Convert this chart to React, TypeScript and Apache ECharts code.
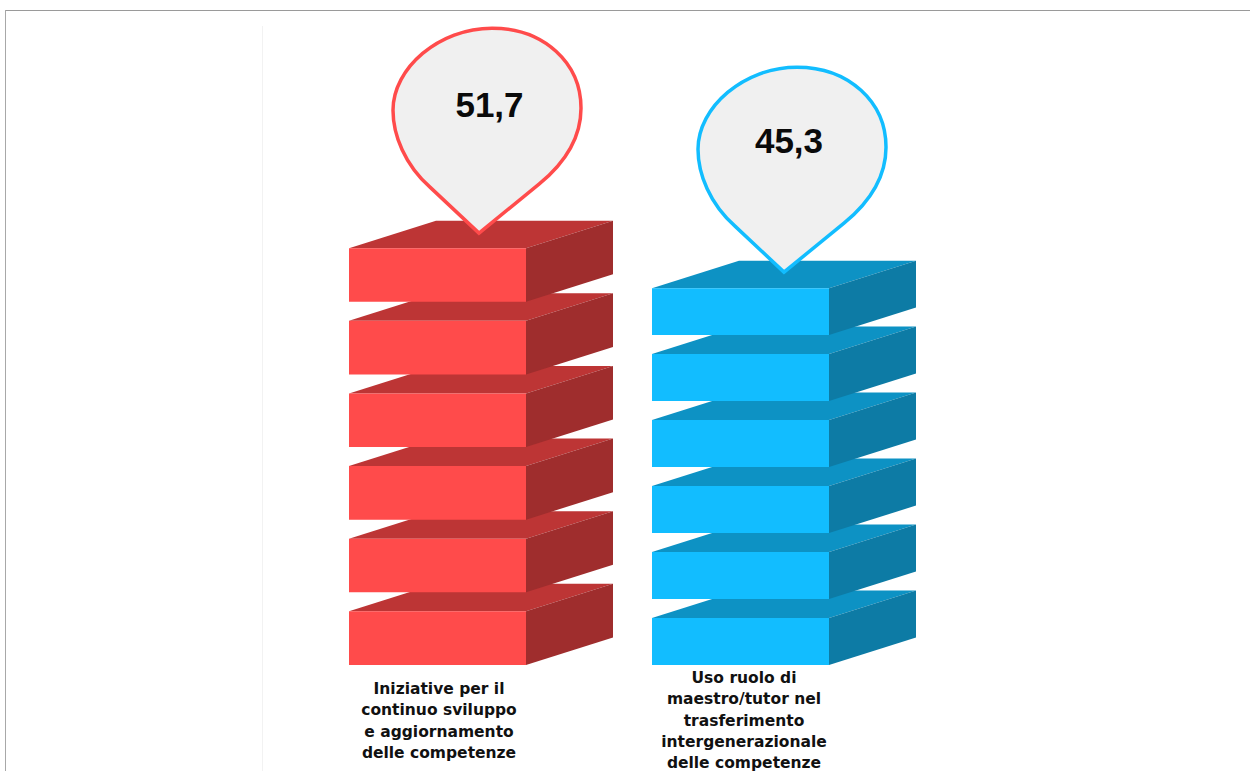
import React, { useEffect, useRef } from "react";
import * as echarts from "echarts";

const categories = [
  "Iniziative per il\ncontinuo sviluppo\ne aggiornamento\ndelle competenze",
  "Uso ruolo di\nmaestro/tutor nel\ntrasferimento\nintergenerazionale\ndelle competenze",
];
const values = [51.7, 45.3];
const slabCounts = [6, 6];

// Per-column colours: front, top and side faces of the slabs, then the pin outline.
const frontColors = ["#FF4B4B", "#12BDFF"];
const topColors = ["#BD3535", "#0D92C4"];
const sideColors = ["#9F2D2D", "#0D7BA5"];

const AXIS_MIN = -15;
const AXIS_MAX = 85;
const FRONT_WIDTH = 177;
const DEPTH_X = 87;
const DEPTH_Y = 27.5;
const SLAB_GAP = 19;

const PIN_PATH =
  "M0,0 L-49,-46 C-74,-68 -86,-98 -86,-123 C-86,-165 -40,-205 13,-205 " +
  "C65,-205 102,-170 102,-125 C102,-98 88,-72 60,-49 Z";
const pinTipDx = [41.5, 43.5];
const pinTipLift = [15, 16];
const valueDx = [52, 48.5];
const valueLift = [144, 148];

const formatValue = (v: number) => String(v).replace(".", ",");

function renderColumn(params: any, api: any) {
  const i = api.value(0) as number;
  const value = api.value(1) as number;
  const [cx, top] = api.coord([i, value]);
  const [, bottom] = api.coord([i, AXIS_MIN]);
  const left = cx - FRONT_WIDTH / 2;
  const right = cx + FRONT_WIDTH / 2;
  const n = slabCounts[i];
  const pitch = (bottom - top + SLAB_GAP) / n;
  const h = pitch - SLAB_GAP;
  const children: any[] = [];

  // Lower slabs first, so each upper slab overlaps the top face beneath it.
  for (let s = n - 1; s >= 0; s--) {
    const y = top + s * pitch;
    children.push(
      {
        type: "polygon",
        shape: { points: [[left, y], [left + DEPTH_X, y - DEPTH_Y], [right + DEPTH_X, y - DEPTH_Y], [right, y]] },
        style: { fill: topColors[i] },
      },
      {
        type: "polygon",
        shape: { points: [[right, y], [right + DEPTH_X, y - DEPTH_Y], [right + DEPTH_X, y - DEPTH_Y + h], [right, y + h]] },
        style: { fill: sideColors[i] },
      },
      { type: "rect", shape: { x: left, y, width: FRONT_WIDTH, height: h }, style: { fill: frontColors[i] } }
    );
  }

  children.push(
    {
      type: "path",
      x: cx + pinTipDx[i],
      y: top - pinTipLift[i],
      shape: { pathData: PIN_PATH },
      style: { fill: "#F0F0F0", stroke: frontColors[i], lineWidth: 3.5, lineJoin: "miter" },
    },
    {
      type: "text",
      x: cx + valueDx[i],
      y: top - valueLift[i],
      style: {
        text: formatValue(value),
        fill: "#0A0A0A",
        font: 'bold 35px "Liberation Sans", Arial, sans-serif',
        align: "center",
        verticalAlign: "middle",
      },
    }
  );
  return { type: "group", children };
}

export default function App() {
  const ref = useRef<HTMLDivElement>(null);

  useEffect(() => {
    const chart = echarts.init(ref.current!, undefined, { renderer: "svg" });
    chart.setOption({
      animation: false,
      backgroundColor: "#FFFFFF",
      grid: { left: 286, width: 606, top: 40, height: 625, outerBoundsMode: "none" },
      xAxis: {
        type: "category",
        data: categories.map((c, i) => ({
          value: c,
          textStyle: i === 1 ? { padding: [0, 0, 0, 7] } : { padding: [11, 0, 0, 3] },
        })),
        axisLine: { show: false },
        axisTick: { show: false },
        axisLabel: {
          interval: 0,
          margin: 2,
          verticalAlign: "top",
          align: "center",
          lineHeight: 21.4,
          fontFamily: '"DejaVu Sans", sans-serif',
          fontWeight: "bold",
          fontSize: 15.5,
          color: "#111111",
        },
      },
      yAxis: { type: "value", min: AXIS_MIN, max: AXIS_MAX, show: false },
      series: [
        {
          type: "custom",
          renderItem: renderColumn,
          clip: false,
          encode: { x: 0, y: 1 },
          data: values.map((v, i) => [i, v]),
        },
      ],
      graphic: [
        { type: "line", shape: { x1: 5, y1: 10.5, x2: 1250, y2: 10.5 }, style: { stroke: "#9A9A9A", lineWidth: 1 } },
        { type: "line", shape: { x1: 5.5, y1: 10, x2: 5.5, y2: 771 }, style: { stroke: "#A8A8A8", lineWidth: 1 } },
        { type: "line", shape: { x1: 262.5, y1: 26, x2: 262.5, y2: 771 }, style: { stroke: "#F2F2F2", lineWidth: 1 } },
      ],
    });
    return () => chart.dispose();
  }, []);

  return <div ref={ref} style={{ position: "fixed", left: 0, top: 0, width: 1250, height: 771 }} />;
}
